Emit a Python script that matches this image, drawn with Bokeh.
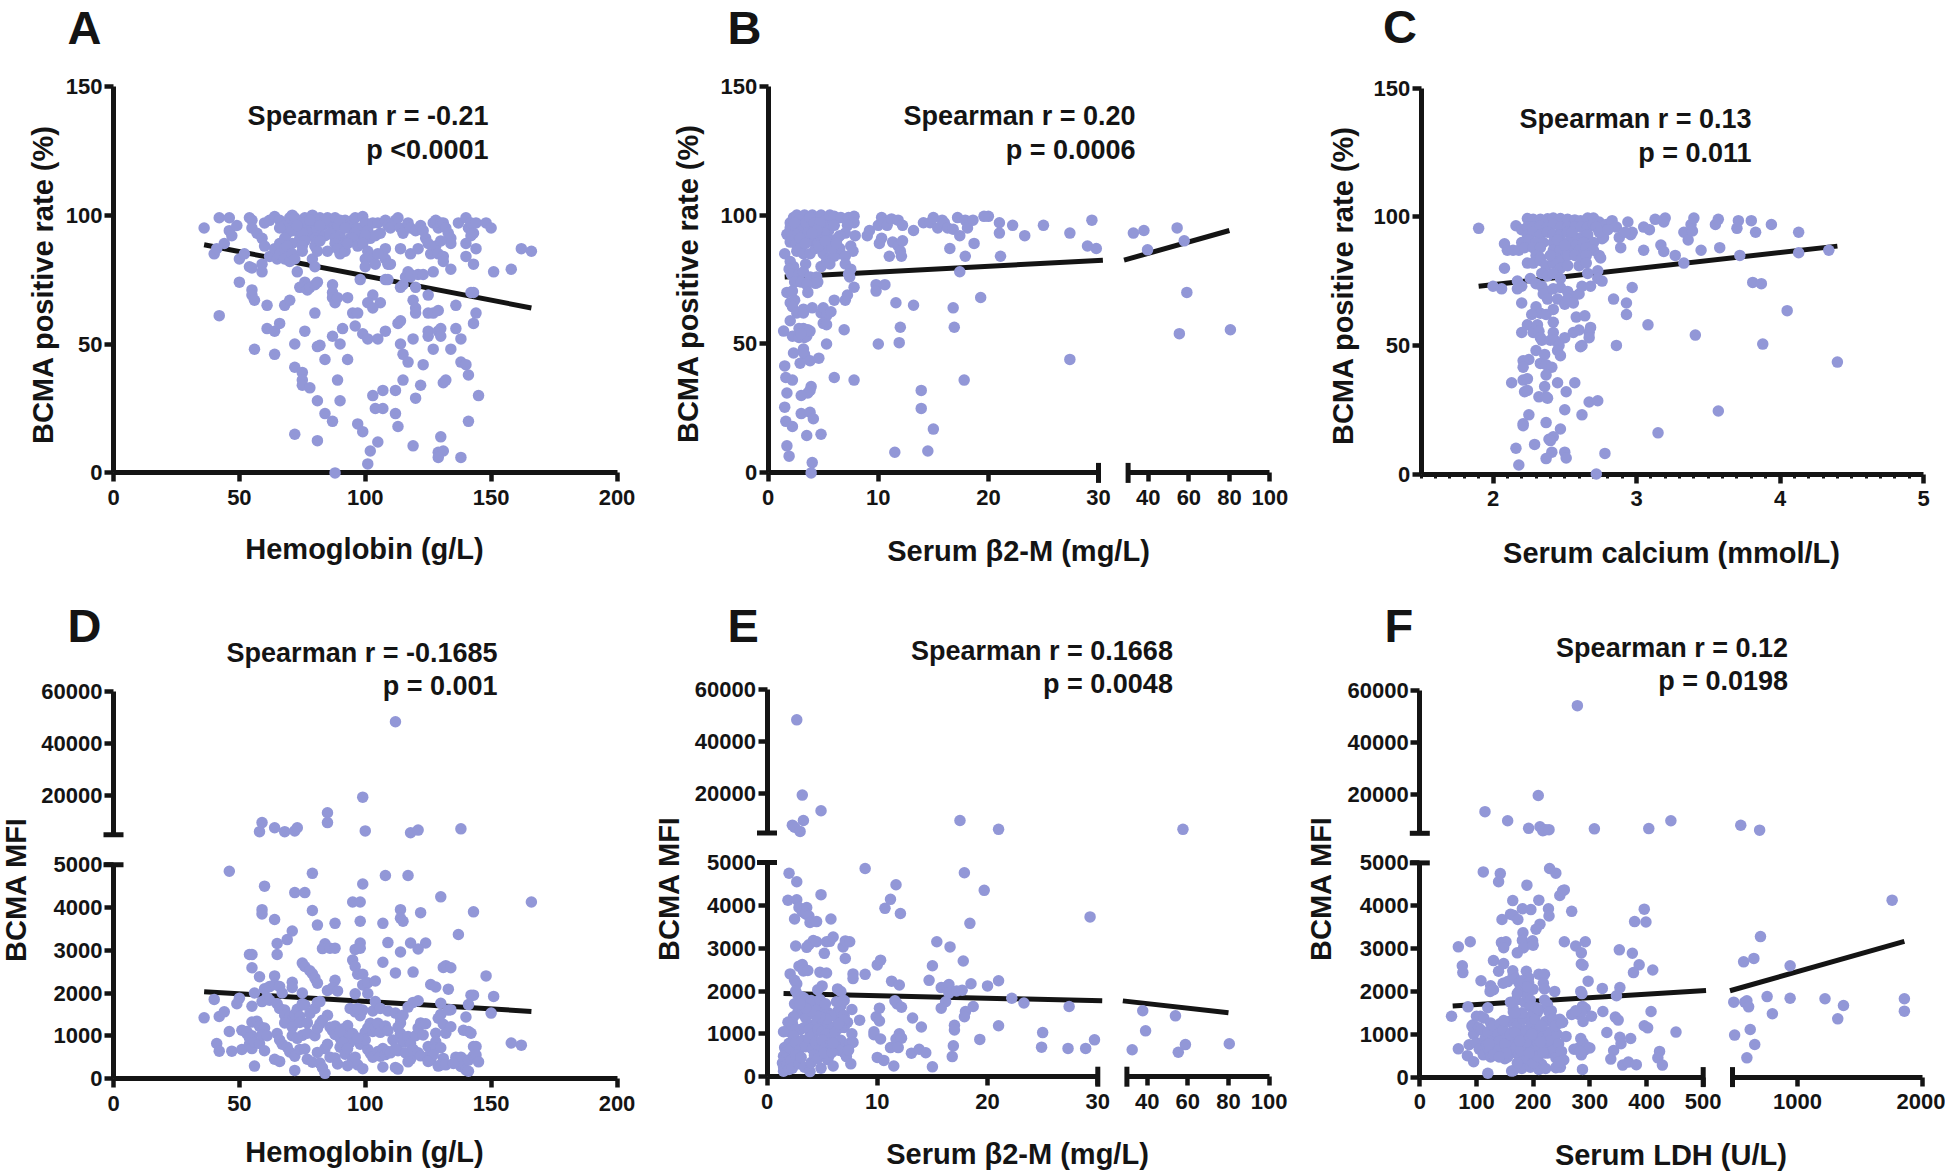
from bokeh.plotting import figure
from bokeh.models import Range1d, LinearAxis, FixedTicker, BasicTickFormatter, Label
from bokeh.embed import file_html
from bokeh.resources import INLINE

PAGE_W, PAGE_H = 1945, 1173
DOT = "#9297D7"
INK = "#141414"
FONT = "Liberation Sans"

# ---------- data (x, y) ----------
panel_a_points = [
 (36,95),(42,99),(46,99),(46,94),(47,92),(49,96),(54,99),(55,98),(55,95),(57,93),(59,91),(60,88),(60,97),(62,98),(64,99.5),(66,98),(68,96),(69,93),
 (70,99),(71,100),(72,97),(73,94),(74,91),(76,99),(77,96),(78,93),(79,100),(80,97),(81,94),(82,99),(83,96),(84,92),(85,99),(86,97),(87,94),(88,99),
 (89,96),(90,92),(91,89),(92,98),(93,95),(94,91),(95,98),(96,99),(97,95),(98,92),(99,99.5),(100,97),(101,94),(102,91),(103,97),(104,92),(105,97),(106,93),
 (108,98),(109,96),(110,95),(112,98),(113,99),(114,95),(115,93),(117,97),(118,95),(120,94),(122,96),(123,94),(124,91),(125,89),(127,97),(128,98),(129,95),
 (130,97),(131,97),(132,95),(133,93),(134,91),(134,89),(137,97),(140,99),(141,95),(142,97),(143,93),(142,92),(144,97),(148,97),(150,95),
 (72,99),(75,97),(78,98),(84,98),(90,98),(66,95),(71,94),(75,93),(80,91),(86,93),(92,95),(96,93),(100,92),(71,89),(73,96),(82,96),(88,91),(76,90),(81,90),(95,91),
 (40,85),(41,87),(44,89),(50,83),(52,85),(54,80),(55,79.5),(59,78),(59,81),(62,84),(64,87),(65,83),(66,89),(66,85),(68,91),(68,87),(68,83),(69,88),(70,82),(71,85),
 (72,83),(73,78),(75,88),(75,86),(79,83),(80,80),(80,88),(81,86),(82,90),(85,86),(88,89),(89,87),(90,85),(92,86),(93,89),(97,88),(99,89),(100,83),(101,86),(100,80),
 (102,84),(103,83),(104,81),(108,87),(108,83),(109,81),(110,81),(105,85),(114,87),(118,85),(121,87),(126,85),(127,78),(128,88),(129,85),(130,90),(131,84),(131,82),
 (134,79),(140,89),(140,84),(143,81),(144,87),(151,78),(158,79),(162,87),(166,86),
 (50,74),(55,71),(55,69),(56,67),(61,65),(68,65),(70,67),(74,72),(76,74),(76,72),(77,71),(78,72),(80,73),(81,74),(87,73),(87,70),(87,68),(88,66),(89,68),(93,68),
 (80,62),(42,61),(95,62),(97,62),(98,75),(103,69),(101,66),(106,66),(103,64),(108,75),(109,75),(114,72),(115,73),(116,76),(117,78),(118,76),(120,72),(118,77),
 (121,77),(123,77),(119,67),(120,64),(120,62),(125,62),(127,62),(129,63),(125,69),(136,65),(142,70),(143,70),(144,62),
 (61,56),(64,55),(66,58),(76,55),(87,53),(91,56),(96,57),(99,54),(101,52),(105,52),(108,55),(113,58),(114,59),(119,52),(125,55),(125,53),(129,55),(130,56),(130,53),
 (136,56),(138,52),(143,58),(56,48),(64,46),(72,50),(81,49),(82,49.5),(90,50),
 (84,44),(93,44),(114,50),(115,46),(117,43),(123,42),(127,48),(134,48),(138,43),(140,42),(141,38),(72,41),(75,39),(75,36),(75,34),(78,33),(89,36),(115,36),(122,34),
 (131,35),(132,36),(112,32),(107,32),(103,30),(145,30),(120,29),(81,28),(90,28),(84,23),(104,25),(107,25),(112,23),(87,20),(141,20),(97,19),(113,18),(99,16),(72,15),
 (81,12.5),(105,12),(119,10.5),(130,14),(102,8.5),(129,8),(131,8.5),(129,6),(138,6),(101,3.5),(88,0),
]
panel_b_points = [
 (2,97),(2.3,99),(2.6,100),(3,98),(3.3,100),(3.6,98),(4,100),(4.4,99),(4.8,100),(5.2,98),(5.6,100),(6,99.5),(6.6,99),(7.3,99),(7.8,99.5),(7.8,97),(7.2,96),(7,93),(6.5,92),
 (2,95),(2.5,95),(3,95),(3.5,95),(4,96),(4.5,95),(5,96),(5.5,94),(6,96),(1.7,92.5),(2.2,92),(2.7,93),(3.2,92),(3.7,90),(4.3,92),(4.8,91),(5.3,92),(5.8,90),(6.3,91),
 (7.5,88),(7.7,86),(7.9,92),(2,89.5),(2.5,89),(3,88),(2.6,86),(3.2,85),(3.8,85),(4.3,87),(4.5,89),(5,87),(5.5,88),(6,86),(6.5,85),(5,85),(5.5,83),(6,84),(6.5,87),(7,84),
 (7,81),(7.5,79),(7.4,76),(1.5,85),(2,82),(2.3,80),(3.4,81),(4.8,80),(5.3,82),(5.6,81),(1.9,79),(2.1,77),(2.8,77),(3.2,78),(3.8,76),(4.4,76),(4.5,74),(4.3,73.5),(7.3,77),
 (2.4,74),(3,74),(3.5,73),(1.7,70),(2.2,70.5),(2,66),(2.4,67),(3.6,70),(2.2,64.5),(3.2,63.5),(2.6,62),(3.2,62),(4,64),(4.8,62),(5.0,64),(5.3,61),(5.7,62.5),(6,67),(7,67),
 (7.2,69),(7.8,72),(2,59),(1.4,55),(5,58),(5.3,57.5),(6.9,55.5),(2.8,56),(3.2,56),(3.6,55.5),(2.2,53),(2.8,52.5),(3.3,52.5),(3.5,53),(3.8,55),(3,54),(5.3,50),(3.2,48),
 (2.3,46.5),(3.3,46),(4.6,44.5),(3.8,43.5),(2.9,42.5),(1.5,41.5),(1.6,37),(2.2,36),(6,37),(7.8,36),(3.9,33.5),(1.7,31),(3.8,32),(3.6,31),(3,30),(1.5,25.5),(3,23),(3.8,23.5),
 (4.1,21),(1.6,20),(2.2,18),(3.5,14.5),(4.8,15),(1.7,10.5),(1.9,6.5),(4,4),(3.9,0),
 (2.8,98),(3.1,96),(3.4,97),(3.8,99),(4.2,97),(4.7,97),(5.1,93),(4.4,94),(3.6,93),(2.4,97),(2.9,91),(3.4,89),(4,93),(4.6,88),(5.2,90),(5.8,87),(6.2,89),
 (9,92),(9.2,94),(10,96),(10.3,99),(10.5,97),(10.8,96),(11.2,98.5),(11.8,98),(12.2,96),(10.3,91),(10.1,89),(11.3,89.5),(11.8,88),(12.2,90),(12,86),(12.1,84),(11,84),(13.2,94),
 (14.1,97),(14.7,97),(15,99),(15.4,95),(15.8,98),(16,97),(16.3,95),(16.8,94.5),(17.2,99),(17.4,92),(17.9,98),(18.1,95),(18.6,98),(16.5,87),(17.9,84),(18.7,89),(20,99.5),
 (19.6,99.5),(21,97),(21,93),(21.1,84),(22.2,96),(23.3,92),(25,96),(27.4,93),(29.4,98),(29,88),(29.8,87),(17.4,78),(9.8,73),(9.8,70.5),(10.6,73),(19.3,68),(11.6,66),(13.2,65),
 (16.8,64),(16.9,56.5),(12,56.5),(10,50),(11.9,50.5),(27.4,44),(17.8,36),(13.9,32),(13.9,25),(15,17),(11.5,8),(14.5,8.5),
 (32.6,93),(37.8,94),(39.6,86.5),(54.2,95),(57.7,90),(59,70),(55.3,54),(80.5,55.5),
]
panel_c_points = [
 (2.24,99.3),(2.28,99),(2.33,99),(2.38,99.2),(2.42,99.5),(2.47,99.3),(2.52,99),(2.57,98.8),(2.61,98.5),(2.66,99.5),(2.70,99.5),(2.74,98),(2.79,97),(2.83,98.5),(2.86,96),
 (2.16,96.5),(2.2,95),(2.24,96),(2.28,96),(2.33,96.5),(2.38,96),(2.42,97),(2.47,96),(2.52,96),(2.57,96),(2.61,96),(2.66,96),(2.78,95),(2.77,92),(2.76,91.5),
 (2.24,93),(2.28,94),(2.33,93),(2.38,94),(2.42,93),(2.47,93),(2.52,94),(2.57,92),(2.62,92),(2.66,93),(2.7,90),(2.2,90),(2.25,91),(2.3,90),(2.35,90),(2.42,90),(2.47,90),(2.52,90),(2.58,89),(2.63,90),
 (2.08,89.5),(2.1,87),(2.14,87),(2.18,87),(2.22,88),(2.28,88),(2.33,88),(2.42,87),(2.47,87),(2.52,87),(2.6,87),(2.65,88),(2.7,87),(2.74,85),
 (2.3,85),(2.33,84),(2.44,84),(2.48,83),(2.52,85),(2.57,85),(2.62,84),(2.65,85),(2.24,82),(2.28,82),(2.33,83),(2.37,81),(2.42,82),(2.47,80),(2.52,81),(2.6,81),(2.65,82),(2.08,80),(2.34,78),(2.38,77),
 (2.42,78),(2.47,76),(2.66,78),(2.73,79),(2.73,76),(2.76,75),
 (2.17,75),(2.26,76),(2.2,73),(2.3,74),(2.34,73),(2.38,71),(2.42,72),(2.47,72.5),(2.35,70),(2.38,68),(2.45,68),(2.52,71),(2.56,69),(2.6,70),(2.62,73),(2.68,73),
 (1.9,95.5),(2.0,73),(2.06,72),(2.17,72),(2.2,66.5),(2.3,65),(2.33,62.5),(2.27,62),(2.37,62),(2.42,64),(2.5,66),(2.52,68),(2.56,66.5),(2.58,61),(2.64,61.5),(2.42,59),
 (2.24,58),(2.28,55),(2.31,58),(2.2,55),(2.32,55.5),(2.33,53),(2.34,52),(2.4,52),(2.42,55),(2.43,52),(2.5,53),(2.56,55),(2.6,56),(2.68,57),(2.67,55),(2.67,53),(2.62,50),(2.61,49.5),
 (2.3,48),(2.36,46.5),(2.46,50),(2.45,48),(2.47,46),(2.25,44.5),(2.21,44),(2.33,43),(2.37,42.5),(2.41,41.5),(2.21,41.5),(2.37,38.5),(2.21,36.5),(2.24,37),(2.13,35.5),(2.45,35.5),(2.57,35.5),
 (2.36,34),(2.22,32),(2.24,32.5),(2.32,30),(2.37,30),(2.38,29.5),(2.51,32),(2.67,28),(2.73,28.5),(2.5,25),(2.62,23),(2.25,23),(2.21,19.5),(2.21,18.8),(2.37,20),(2.47,17.5),(2.39,13.5),
 (2.42,14.5),(2.4,13),(2.29,11.5),(2.16,10),(2.41,8.5),(2.5,8.5),(2.78,8),(2.51,6.2),(2.37,6),(2.18,3.5),(2.72,0),
 (2.84,68),(2.93,66.5),(2.93,62),(2.86,50),(2.97,72.5),(2.96,93),(2.97,94),(2.94,98),(2.88,92),(2.92,94),(2.89,88),(3.05,96),(3.09,95),(3.05,87),(3.13,99),(3.2,99.5),(3.19,98),(3.17,89),
 (3.19,86.5),(3.27,85),(3.33,94),(3.33,82),(3.36,91),(3.39,94.5),(3.38,97),(3.4,99.5),(3.45,87),(3.55,97),(3.57,99),(3.58,88),(3.7,95.5),(3.71,98.5),(3.72,85),(3.8,98.5),(3.83,94),(3.94,97),
 (4.13,94),(4.13,86),(4.34,87),(3.81,74.5),(3.87,74),(4.05,63.5),(3.08,58),(3.41,54),(3.88,50.5),(4.4,43.5),(3.57,24.5),(3.15,16),
 (2.7,97),(2.72,96),(2.74,94),(2.8,95),(2.75,84),(2.55,94),(2.45,91),(2.4,85),(2.5,89),
]
panel_d_upper_points = [
 (112,48500),(99,19500),(85,13500),(85,9700),(59,9700),(64,7700),(58,6200),(68,6200),(72,6500),(73,7700),(100,6500),(118,5800),(121,6800),(138,7300),
]
panel_d_lower_points = [
 (46,4850),(79,4800),(60,4500),(108,4750),(117,4750),(99,4550),(72,4350),(76,4350),(130,4250),(166,4130),(95,4130),(98,4130),(59,3950),(59,3850),(64,3720),(79,3930),(114,3950),(122,3880),(143,3900),
 (114,3750),(115,3680),(98,3680),(107,3630),(81,3590),(88,3630),(71,3450),(137,3370),(69,3250),(65,3160),(84,3150),(83,3040),(86,3050),(88,3050),(98,3170),(96,3020),(98,3050),(109,3180),(118,3170),
 (124,3170),(121,3030),(114,2960),(54,2900),(55,2900),(65,2900),(95,2770),(96,2620),(107,2720),(75,2700),(76,2620),(78,2520),(79,2450),(80,2350),(81,2230),(55,2590),(58,2380),(64,2400),(97,2440),
 (99,2440),(112,2470),(119,2490),(131,2600),(132,2640),(134,2590),(148,2400),(88,2300),(71,2250),(71,2130),(60,2100),(62,2150),(64,2200),(66,2150),(85,2060),(87,2120),(89,2050),(99,2190),(101,2240),
 (104,2280),(126,2200),(128,2140),(133,2090),(96,1980),(101,1990),(142,1950),(143,1950),(151,1920),(56,2000),(67,2000),(75,2000),
 (36,1420),(40,1850),(42,1450),(44,1560),(50,1880),(49,1750),(46,1100),(51,1130),(53,1050),(55,1000),(41,820),(42,640),(47,640),(51,680),(54,800),(55,700),(56,290),(55,1690),(59,1800),
 (53,1100),(54,950),(56,850),(58,820),(55,1320),(57,1340),(58,1220),(60,1180),(59,1020),(61,1000),(60,650),(64,450),(66,400),
 (61,1900),(62,1830),(65,1750),(66,1640),(68,1600),(68,1480),(70,1450),(70,1340),(72,1500),(73,1620),(74,1450),(75,1750),(76,1720),(78,1520),(80,1640),(81,1780),(82,1800),(85,1480),(68,1300),(71,1200),(74,1310),(77,1300),
 (65,1050),(66,900),(67,800),(69,730),(70,620),(71,1000),(73,940),(75,1010),(77,1060),(72,520),(74,680),(76,690),(77,450),(79,380),(80,1000),(81,1170),(82,1280),(83,1360),(84,700),(85,800),(82,360),(81,610),(83,250),(84,120),(72,190),
 (86,1200),(87,1120),(88,1230),(89,1060),(90,940),(91,1160),(92,1000),(93,1240),(94,850),(95,1050),(86,500),(88,480),(89,340),(90,730),(91,850),(92,570),(93,700),(95,430),(96,500),(97,320),(98,800),(99,230),(88,1030),
 (94,1640),(96,1560),(98,1470),(99,1600),(97,1640),(103,1580),(104,1800),(106,1640),(109,1580),(112,1530),
 (100,1080),(101,1180),(102,1290),(103,1100),(104,1200),(105,1290),(106,1080),(108,1230),(109,1120),(101,680),(102,590),(103,500),(105,630),(106,520),(107,700),(108,560),(109,630),(110,600),(107,270),(112,260),(113,220),
 (114,1430),(114,1300),(115,1480),(113,1200),(114,1050),(115,850),(113,650),(116,600),(118,450),(117,390),(117,980),(118,820),(119,680),(120,1000),(121,600),(122,530),(121,1180),(122,1300),(123,1020),(124,1280),(125,750),(126,600),
 (126,430),(128,1060),(128,860),(129,1410),(130,1500),(131,1270),(132,1060),(128,700),(130,720),(131,470),(130,320),(129,290),(132,320),(134,1210),(134,1610),(133,1600),
 (130,1760),(117,1670),(119,1780),(121,1820),(140,1440),(141,1730),(150,1530),(139,1130),(141,1100),(142,1060),(136,500),(138,500),(138,280),(140,200),(141,170),(141,430),(143,530),(143,750),(144,750),(144,550),(145,390),(158,830),(162,780),
 (135,350),(127,550),(125,400),(111,900),(112,700),(93,300),(100,900),(97,950),(90,1100),
]
panel_e_upper_points = [
 (2.7,48300),(3.2,19500),(4.9,13500),(3.3,9800),(2.3,8000),(2.5,7200),(3.0,5600),(17.5,9800),(21,6400),(57.6,6400),
]
panel_e_lower_points = [
 (2,4750),(2.7,4550),(4.9,4250),(1.9,4120),(2.7,4130),(2.9,3950),(3.2,3850),(3.6,3950),(3.5,3800),(3.8,3750),(3.9,3600),(2.5,3680),(4.5,3620),(5.8,3680),(2.6,3050),(3.6,3020),(3.8,3080),(4.2,3180),(4.5,3150),
 (5.4,3150),(5.7,3160),(6,3260),(5.2,2880),(6.9,3030),(7.1,3170),(7.5,3150),(7.1,2760),(2.9,2580),(3.2,2620),(3.3,2470),(3.7,2480),(4.8,2440),(5.4,2420),(2.1,2400),(7.8,2400),(7.8,2290),(8.9,2390),(2.5,2250),
 (2.7,2170),(5,2120),(4.6,2030),(6.4,2050),(6.7,1990),(2.8,1900),(3,1880),(3.3,1850),(3.5,1800),(3.6,1750),
 (2.6,2000),(2.5,1700),(2.8,1500),(3.2,1470),(3.5,1380),(4,1200),(4.5,1250),(5,1230),(5.5,1220),(6,1150),(6.5,1300),(7,1150),(6.7,1650),(6.4,1520),(7,1780),(7,1430),(5,1620),(5.5,1500),(4.3,1600),(4,1780),
 (2.4,1400),(2.3,1250),(1.9,1270),(2,1050),(1.5,1050),(2.6,1100),(3,1100),(3.4,1150),(3.8,1100),(4.2,1000),(4.6,1100),(5,1050),(5.4,1000),(5.8,900),(6.2,1050),(6.7,850),(7,700),(7.5,780),(7.7,1000),(7.8,800),
 (1.6,680),(1.7,560),(1.5,480),(1.8,430),(2,780),(2.2,650),(2.4,950),(2.6,800),(2.9,620),(3.2,850),(3.5,700),(3.8,900),(4.1,650),(4.4,800),(4.7,620),(5,850),(5.3,680),(5.6,480),(5.8,780),(6.2,720),(6.5,620),
 (7,560),(7.2,470),(7.4,620),(7.6,300),(1.4,320),(1.5,230),(1.5,130),(1.8,280),(2,170),(2.2,380),(2.3,200),(2.6,500),(2.9,300),(3.1,450),(3.4,220),(3.9,120),(4,330),(4.3,500),(4.6,420),(4.9,200),(5.5,400),(6,250),
 (5.2,550),(5.9,570),(6,780),(4.8,1800),(5.3,1700),(6.3,1750),(7.7,1570),(8.4,1320),(7.3,1270),(7,1320),(6.7,1150),(6.5,1240),(5.8,1420),(5.4,1350),(4.8,1400),(4.4,1430),(4,1530),(3.5,1600),(3,1700),
 (9.9,1400),(10.2,1300),(10.2,1600),(9.7,1050),(9.7,980),(10.3,880),(10,450),(10.6,380),(11.5,250),(11.2,680),(11.7,880),(12,1000),(12.2,900),(11.9,680),(11.3,2230),(12,2140),(11.6,1770),(11.8,1700),(12.2,1620),
 (13.2,1370),(14,1160),(13.1,550),(13.8,640),(14.4,560),(15,230),(14.7,2250),(15,2590),(15.4,3150),(16.6,3030),(17.8,2700),(15.8,2080),(16.3,2100),(16.5,2150),(16.5,1950),(16.2,1750),(15.8,1600),(17.2,2000),
 (17.7,2020),(18.5,2170),(20,2120),(21,2240),(18,1520),(17.9,1400),(18.7,1640),(17,1200),(17,1090),(16.9,720),(16.8,470),(19.3,870),(21,1190),(22.2,1830),(23.3,1720),(25,1030),(24.9,690),(27.3,660),(27.4,1640),
 (28.9,660),(29.7,860),(29.3,3730),(18.4,3580),(19.7,4350),(17.9,4760),(11.7,4480),(11.2,4140),(10.7,3930),(12.1,3810),(8.9,4860),(10,2610),(10.3,2720),
 (37.8,1540),(39.2,1070),(53.9,1420),(55.3,570),(58.8,750),(80.4,770),(32.6,630),
]
panel_f_upper_points = [
 (278,54000),(209,19500),(115,13300),(155,9800),(192,6900),(212,7500),(217,6000),(222,6400),(228,6400),(308,6700),(404,6800),(443,9800),(546,8100),(697,6200),
]
panel_f_lower_points = [
 (112,4790),(142,4750),(139,4560),(229,4870),(240,4760),(189,4480),(247,4240),(252,4350),(255,4370),(164,4120),(210,4130),(181,3930),(196,3910),(227,3930),(228,3760),(268,3870),(145,3680),(160,3800),(165,3780),
 (173,3680),(212,3570),(205,3450),(182,3370),(396,3920),(379,3630),(399,3620),(89,3160),(68,3040),(144,3140),(150,3130),(152,3160),(148,3020),(181,3190),(185,3120),(183,3020),(199,3180),(200,3080),(172,2900),
 (255,3160),(275,3060),(292,3160),(285,2900),(352,2970),(375,2890),(130,2720),(148,2650),(75,2600),(76,2440),(139,2470),(164,2480),(165,2380),(188,2470),(192,2320),(210,2400),(220,2400),(285,2640),(288,2610),
 (387,2620),(377,2440),(411,2500),(108,2250),(125,2130),(130,2040),(124,2000),(147,2190),(155,2230),(168,2300),(175,2200),(180,2250),(192,2200),(218,2190),(220,2060),(238,2000),(284,2000),(297,2240),(322,2070),
 (353,2090),(347,1900),(286,1950),
 (56,1420),(85,1640),(68,660),(87,755),(84,500),(95,360),(120,1620),(120,90),(162,140),(100,1420),(94,1220),(107,1420),(113,1380),(95,1000),(92,1190),(104,1150),(125,1260),(124,1070),
 (100,800),(105,650),(108,1100),(112,520),(115,900),(118,750),(120,1050),(123,600),(125,470),(128,850),(130,1200),(132,700),(135,520),(138,1000),(140,830),(142,1250),(145,620),(147,1100),(150,430),(152,900),
 (155,750),(157,1300),(160,560),(162,1050),(165,880),(167,1400),(170,700),(172,1200),(175,500),(177,980),(180,800),(182,1350),(185,620),(187,1100),(190,380),(192,900),(195,700),(197,1250),(200,520),(202,1050),
 (205,850),(207,1500),(210,650),(212,1150),(215,300),(217,950),(220,750),(222,1300),(225,560),(227,1050),(230,850),(232,1550),(235,620),(237,1200),(240,450),(242,1000),(245,780),(247,1350),(250,600),(252,1280),
 (254,400),(248,230),(258,950),(165,1600),(170,1800),(175,2000),(172,1950),(185,1750),(190,1900),(195,1800),(200,2050),(190,2100),(195,1650),(198,1450),(203,1350),(180,1500),(165,1520),(160,1750),(168,1500),
 (205,1620),(210,1580),(220,1800),(225,1700),(228,1520),(215,1200),(235,1360),(240,1200),(250,1270),(165,150),(180,200),(195,230),(210,180),(222,200),(240,220),(245,350),(185,450),(200,330),(172,330),(155,470),
 (140,640),(150,770),(160,990),(178,620),(188,820),(198,1000),(208,480),(218,560),(148,1320),(152,560),(168,1040),(176,840),(193,560),(213,820),(130,520),(140,470),(122,780),
 (278,1480),(283,1450),(287,1650),(292,1600),(285,1520),(288,1300),(303,1420),(323,1530),(345,1400),(350,1330),(268,1460),(275,1550),
 (272,650),(280,680),(284,900),(288,800),(290,620),(295,700),(300,680),(285,520),(283,600),(287,180),(330,1040),(342,620),(337,420),(353,930),(355,780),(358,280),(368,350),(372,900),(382,290),(396,1200),(402,1150),
 (408,1530),(452,1050),(423,600),(420,450),(428,280),
 (490,1750),(497,980),(569,2690),(579,1750),(595,1780),(609,1640),(595,450),(622,1110),(651,2770),(658,760),(704,3280),(757,1880),(799,1480),(941,2600),(941,1840),(1220,1830),(1322,1360),(1368,1670),(1757,4130),(1855,1830),(1855,1540),
]
trend_a_x, trend_a_y = [36, 166], [88.5, 64]
trend_b1_x, trend_b1_y = [1.5, 30.4], [76, 82.5]
trend_b2_x, trend_b2_y = [28, 80], [82.5, 94]
trend_c_x, trend_c_y = [1.9, 4.4], [73, 88.6]
trend_d_x, trend_d_y = [36, 166], [2030, 1570]
trend_e1_x, trend_e1_y = [1.5, 30.4], [1945, 1770]
trend_e2_x, trend_e2_y = [28, 80], [1770, 1495]
trend_f1_x, trend_f1_y = [58, 505], [1660, 2020]
trend_f2_x, trend_f2_y = [460, 1855], [2015, 3170]

ticks_hb = [0, 50, 100, 150, 200]
ticks_b2m_low = [0, 10, 20, 30]
ticks_b2m_high = [40, 60, 80, 100]
ticks_ca = [2, 3, 4, 5]
ticks_ca_minor = [1.5,1.6,1.7,1.8,1.9,2.1,2.2,2.3,2.4,2.5,2.6,2.7,2.8,2.9,3.1,3.2,3.3,3.4,3.5,3.6,3.7,3.8,3.9,4.1,4.2,4.3,4.4,4.5,4.6,4.7,4.8,4.9]
ticks_ldh_low = [0, 100, 200, 300, 400, 500]
ticks_ldh_high = [1000, 2000]
ticks_rate = [0, 50, 100, 150]
ticks_mfi_low = [0, 1000, 2000, 3000, 4000, 5000]
ticks_mfi_high = [20000, 40000, 60000]

# ---------- page-wide figure, 1 data unit of the default ranges = 1 page pixel ----------
p = figure(width=PAGE_W, height=PAGE_H, x_range=Range1d(0, PAGE_W), y_range=Range1d(PAGE_H, 0),
           x_axis_location=None, y_axis_location=None, toolbar_location=None,
           output_backend="svg", min_border=0, outline_line_color=None)
p.grid.visible = False

def add_x(name, v0, px0, v1, px1):
    k = (v1 - v0) / (px1 - px0)
    p.extra_x_ranges[name] = Range1d(v0 - px0 * k, v0 + (PAGE_W - px0) * k)

def add_y(name, v0, py0, v1, py1):
    k = (v1 - v0) / (py1 - py0)
    p.extra_y_ranges[name] = Range1d(v0 + (PAGE_H - py0) * k, v0 - py0 * k)

add_x("a", 0, 113, 200, 616.5)
add_y("a", 0, 472.4, 150, 85.8)
add_x("b1", 0, 767.7, 30, 1098)
add_x("b2", 30, 1127.6, 100, 1269.4)
add_y("b", 0, 472.4, 150, 85.6)
add_x("c", 2, 1492.5, 5, 1923)
add_y("c", 0, 473.5, 150, 87.7)
add_x("d", 0, 113, 200, 616.5)
add_y("d_low", 0, 1078, 5000, 864.3)
add_y("d_up", 5000, 834.3, 60000, 691.4)
add_x("e1", 0, 766.5, 30, 1097.3)
add_x("e2", 30, 1126.4, 100, 1268.6)
add_y("e_low", 0, 1076.2, 5000, 862)
add_y("e_up", 5000, 832.5, 60000, 688.8)
add_x("f1", 0, 1419.3, 500, 1702.7)
add_x("f2", 480, 1732, 2000, 1922)
add_y("f_low", 0, 1076.6, 5000, 862.4)
add_y("f_up", 5000, 832.8, 60000, 689.5)

def axis(side, ticks, bounds, xn, yn, cross, minor=()):
    ax = LinearAxis(x_range_name=xn, y_range_name=yn, fixed_location=cross, bounds=bounds,
                    ticker=FixedTicker(ticks=list(ticks), minor_ticks=list(minor)),
                    formatter=BasicTickFormatter(use_scientific=False),
                    axis_line_color=INK, axis_line_width=5,
                    major_tick_line_color=INK, major_tick_line_width=4.5, major_tick_in=0, major_tick_out=9,
                    minor_tick_line_color=INK, minor_tick_line_width=3, minor_tick_in=0, minor_tick_out=4,
                    major_label_text_font=FONT, major_label_text_font_style="bold",
                    major_label_text_font_size="22px", major_label_text_color=INK,
                    major_label_standoff=8 if side == "below" else 2)
    p.add_layout(ax, side)

def cap(xn, yn, x, y, vertical):
    p.scatter([x], [y], marker="dash", size=20, angle=90 if vertical else 0, angle_units="deg",
              line_color=INK, line_width=5, x_range_name=xn, y_range_name=yn)

def trend(xn, yn, xs, ys):
    p.line(xs, ys, line_color=INK, line_width=5, x_range_name=xn, y_range_name=yn, level="overlay")

def dots(xn, yn, pts):
    p.scatter([a for a, _ in pts], [b for _, b in pts], marker="circle", size=11.5, fill_color=DOT, line_color=None,
              x_range_name=xn, y_range_name=yn, level="overlay")

# A
axis("below", ticks_hb, (0, 200), "a", "a", 0)
axis("left", ticks_rate, (0, 150), "a", "a", 0)
trend("a", "a", trend_a_x, trend_a_y)
dots("a", "a", panel_a_points)
# B
axis("below", ticks_b2m_low, (0, 30), "b1", "b", 0)
axis("below", ticks_b2m_high, (30, 100), "b2", "b", 0)
axis("left", ticks_rate, (0, 150), "b1", "b", 0)
cap("b1", "b", 30, 0, True)
cap("b2", "b", 30, 0, True)
trend("b1", "b", trend_b1_x, trend_b1_y)
trend("b2", "b", trend_b2_x, trend_b2_y)
dots("b1", "b", [q for q in panel_b_points if q[0] <= 30])
dots("b2", "b", [q for q in panel_b_points if q[0] > 30])
# C
axis("below", ticks_ca, (1.5, 5), "c", "c", 0, ticks_ca_minor)
axis("left", ticks_rate, (0, 150), "c", "c", 1.5)
trend("c", "c", trend_c_x, trend_c_y)
dots("c", "c", panel_c_points)
# D
axis("below", ticks_hb, (0, 200), "d", "d_low", 0)
axis("left", ticks_mfi_low, (0, 5000), "d", "d_low", 0)
axis("left", ticks_mfi_high, (5000, 60000), "d", "d_up", 0)
cap("d", "d_low", 0, 5000, False)
cap("d", "d_up", 0, 5000, False)
trend("d", "d_low", trend_d_x, trend_d_y)
dots("d", "d_low", panel_d_lower_points)
dots("d", "d_up", panel_d_upper_points)
# E
axis("below", ticks_b2m_low, (0, 30), "e1", "e_low", 0)
axis("below", ticks_b2m_high, (30, 100), "e2", "e_low", 0)
axis("left", ticks_mfi_low, (0, 5000), "e1", "e_low", 0)
axis("left", ticks_mfi_high, (5000, 60000), "e1", "e_up", 0)
cap("e1", "e_low", 30, 0, True)
cap("e2", "e_low", 30, 0, True)
cap("e1", "e_low", 0, 5000, False)
cap("e1", "e_up", 0, 5000, False)
trend("e1", "e_low", trend_e1_x, trend_e1_y)
trend("e2", "e_low", trend_e2_x, trend_e2_y)
dots("e1", "e_low", [q for q in panel_e_lower_points if q[0] <= 30])
dots("e2", "e_low", [q for q in panel_e_lower_points if q[0] > 30])
dots("e1", "e_up", [q for q in panel_e_upper_points if q[0] <= 30])
dots("e2", "e_up", [q for q in panel_e_upper_points if q[0] > 30])
# F
axis("below", ticks_ldh_low, (0, 500), "f1", "f_low", 0)
axis("below", ticks_ldh_high, (480, 2000), "f2", "f_low", 0)
axis("left", ticks_mfi_low, (0, 5000), "f1", "f_low", 0)
axis("left", ticks_mfi_high, (5000, 60000), "f1", "f_up", 0)
cap("f1", "f_low", 500, 0, True)
cap("f2", "f_low", 480, 0, True)
cap("f1", "f_low", 0, 5000, False)
cap("f1", "f_up", 0, 5000, False)
trend("f1", "f_low", trend_f1_x, trend_f1_y)
trend("f2", "f_low", trend_f2_x, trend_f2_y)
dots("f1", "f_low", [q for q in panel_f_lower_points if q[0] <= 500 and q not in [(490,1750),(497,980)]])
dots("f2", "f_low", [q for q in panel_f_lower_points if q[0] > 500 or q in [(490,1750),(497,980)]])
dots("f1", "f_up", [q for q in panel_f_upper_points if q[0] <= 500])
dots("f2", "f_up", [q for q in panel_f_upper_points if q[0] > 500])

# ---------- texts, placed in page pixels ----------
BASELINE_SHIFT = 0.38
def text(s, x, y, size, align="left", angle=0):
    if angle:
        x -= BASELINE_SHIFT * size
    else:
        y -= BASELINE_SHIFT * size
    p.add_layout(Label(x=x, y=y, text=s, text_font=FONT, text_font_style="bold", text_font_size=f"{size}px",
                       text_color=INK, text_align=align, text_baseline="alphabetic", angle=angle, angle_units="deg"))

for s, x, y in [("A", 67, 44.5), ("B", 727, 44.5), ("C", 1382.5, 44), ("D", 67, 643), ("E", 727, 643), ("F", 1384, 643)]:
    text(s, x, y, 47)

for l1, l2, x, y1, y2 in [
    ("Spearman r = -0.21", "p <0.0001", 488, 125.5, 160),
    ("Spearman r = 0.20", "p = 0.0006", 1135, 125.5, 160),
    ("Spearman r = 0.13", "p = 0.011", 1751, 129, 162.5),
    ("Spearman r = -0.1685", "p = 0.001", 497, 662.5, 696),
    ("Spearman r = 0.1668", "p = 0.0048", 1172.4, 660.6, 693.5),
    ("Spearman r = 0.12", "p = 0.0198", 1787.5, 657.6, 690.5),
]:
    text(l1, x, y1, 27, "right")
    text(l2, x, y2, 27, "right")

for s, x, y in [("Hemoglobin (g/L)", 364, 559.4), ("Serum \u03b22-M (mg/L)", 1018, 561.6), ("Serum calcium (mmol/L)", 1671, 564),
                ("Hemoglobin (g/L)", 364, 1163), ("Serum \u03b22-M (mg/L)", 1017, 1164.7), ("Serum LDH (U/L)", 1670.4, 1165.8)]:
    text(s, x, y, 29, "center")

for s, x, y in [("BCMA positive rate (%)", 54, 284), ("BCMA positive rate (%)", 699, 283), ("BCMA positive rate (%)", 1353.5, 285),
                ("BCMA MFI", 27, 889), ("BCMA MFI", 680, 888), ("BCMA MFI", 1332, 888)]:
    text(s, x, y, 29, "center", 90)

open("out.html", "w").write(file_html(p, INLINE))
